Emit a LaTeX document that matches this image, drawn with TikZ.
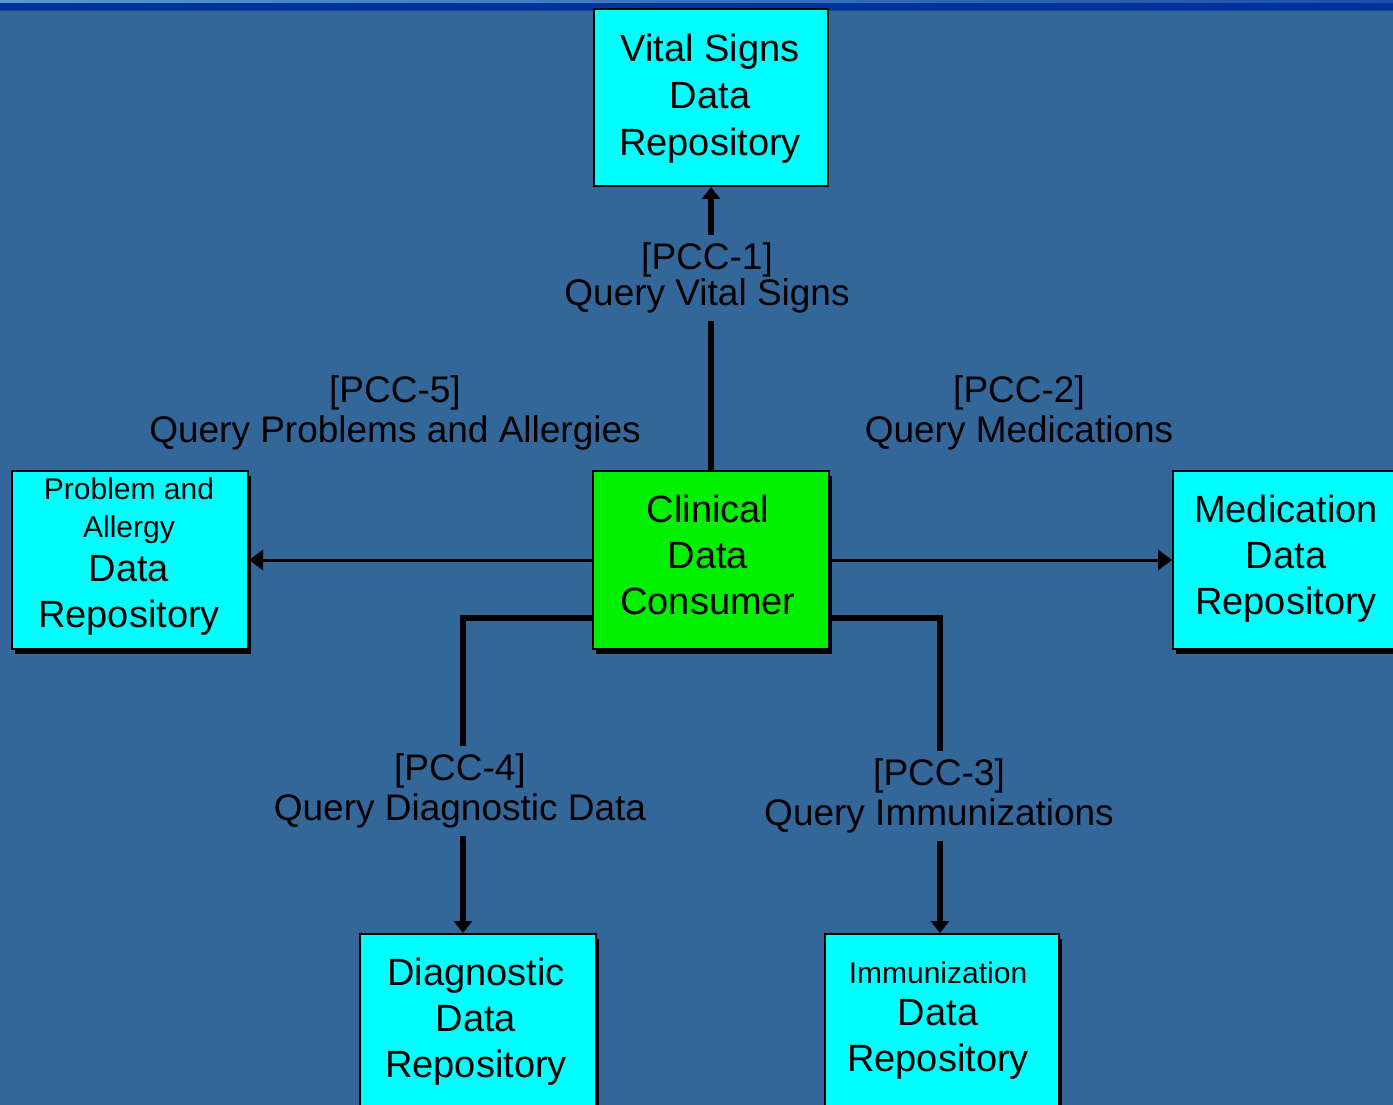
\documentclass[tikz,border=0pt]{standalone}
\usepackage{fontspec}
\setmainfont{Liberation Sans}
\usetikzlibrary{arrows.meta,shadows}
\definecolor{bg}{RGB}{51,102,153}
\definecolor{band}{RGB}{0,51,153}
\definecolor{bandlight}{RGB}{90,150,210}
\definecolor{repo}{RGB}{0,255,255}
\definecolor{consumer}{RGB}{0,240,0}

\begin{document}
\begin{tikzpicture}[x=1pt,y=-1pt,
  box/.style={draw=black, line width=2pt, rectangle, inner sep=0pt, anchor=north west},
  shadowed/.style={drop shadow={shadow xshift=3pt, shadow yshift=-5pt, fill=black, opacity=1}},
  boxtext/.style={align=center, inner sep=0pt, font=\fontsize{38}{46}\selectfont},
  flow/.style={draw=black, line width=3pt},
  thickflow/.style={draw=black, line width=6pt},
  tip/.style={-{Triangle[width=18pt,length=12pt]}},
  thintip/.style={-{Triangle[width=20pt,length=14pt]}},
  lbl/.style={align=center, inner xsep=0pt, inner ysep=8pt, font=\fontsize{37}{40}\selectfont, text=black}]

% page and background
\useasboundingbox (0,0) rectangle (1393,1105);
\clip (0,0) rectangle (1393,1105);
\fill[bg] (0,0) rectangle (1393,1105);
\fill[band] (0,0) rectangle (1393,10);
\shade[left color=bandlight, right color=band!70!bandlight] (0,0) rectangle (1393,3);
\fill[band!60!bg] (0,10) rectangle (1393,11.5);

% boxes
\node[box, fill=repo, minimum width=234pt, minimum height=177pt] (vital) at (593,8) {};
\node[boxtext, font=\fontsize{38}{47}\selectfont] (vitaltxt) at (710,99) {Vital Signs\\Data\\Repository};

\node[box, shadowed, fill=consumer, minimum width=236pt, minimum height=178pt] (cons) at (592,470) {};
\node[boxtext] (constxt) at (708,555) {Clinical\\Data\\Consumer};

\node[box, shadowed, fill=repo, minimum width=236pt, minimum height=178pt] (prob) at (11,470) {};
\node[boxtext] (probtxt) at (129,557) {{\fontsize{30}{36}\selectfont Problem and}\\[-8pt]{\fontsize{30}{36}\selectfont Allergy}\\[-2pt]Data\\Repository};

\node[box, shadowed, fill=repo, minimum width=240pt, minimum height=178pt] (med) at (1172,470) {};
\node[boxtext] (medtxt) at (1286,559) {Medication\\Data\\Repository};

\node[box, shadowed, fill=repo, minimum width=236pt, minimum height=200pt] (diag) at (359,933) {};
\node[boxtext] (diagtxt) at (476,1022) {Diagnostic\\Data\\Repository};

\node[box, shadowed, fill=repo, minimum width=234pt, minimum height=200pt] (imm) at (824,933) {};
\node[boxtext] (immtxt) at (938,1021) {{\fontsize{30}{36}\selectfont Immunization}\\[-4pt]Data\\Repository};

% transaction labels
\node[lbl, font=\fontsize{37}{36}\selectfont] (l1) at (707,278) {[PCC-1]\\Query Vital Signs};
\node[lbl] (l5) at (395,413) {[PCC-5]\\Query Problems and Allergies};
\node[lbl] (l2) at (1019,413) {[PCC-2]\\Query Medications};
\node[lbl] (l4) at (460,791) {[PCC-4]\\Query Diagnostic Data};
\node[lbl] (l3) at (939,796) {[PCC-3]\\Query Immunizations};

% connectors
\draw[thickflow] (cons.north) -- (cons.north |- l1.south);
\draw[thickflow, tip] (cons.north |- l1.north) -- (vital.south);

\draw[flow, thintip] (cons.west) -- (prob.east);
\draw[flow, thintip] (cons.east) -- (med.west);

\coordinate (dk) at (463,618);
\draw[thickflow] (cons.west |- dk) -- (dk) -- (dk |- l4.north);
\draw[thickflow, tip] (dk |- l4.south) -- (dk |- diag.north);

\coordinate (ik) at (940,618);
\draw[thickflow] (cons.east |- ik) -- (ik) -- (ik |- l3.north);
\draw[thickflow, tip] (ik |- l3.south) -- (ik |- imm.north);
\end{tikzpicture}
\end{document}
